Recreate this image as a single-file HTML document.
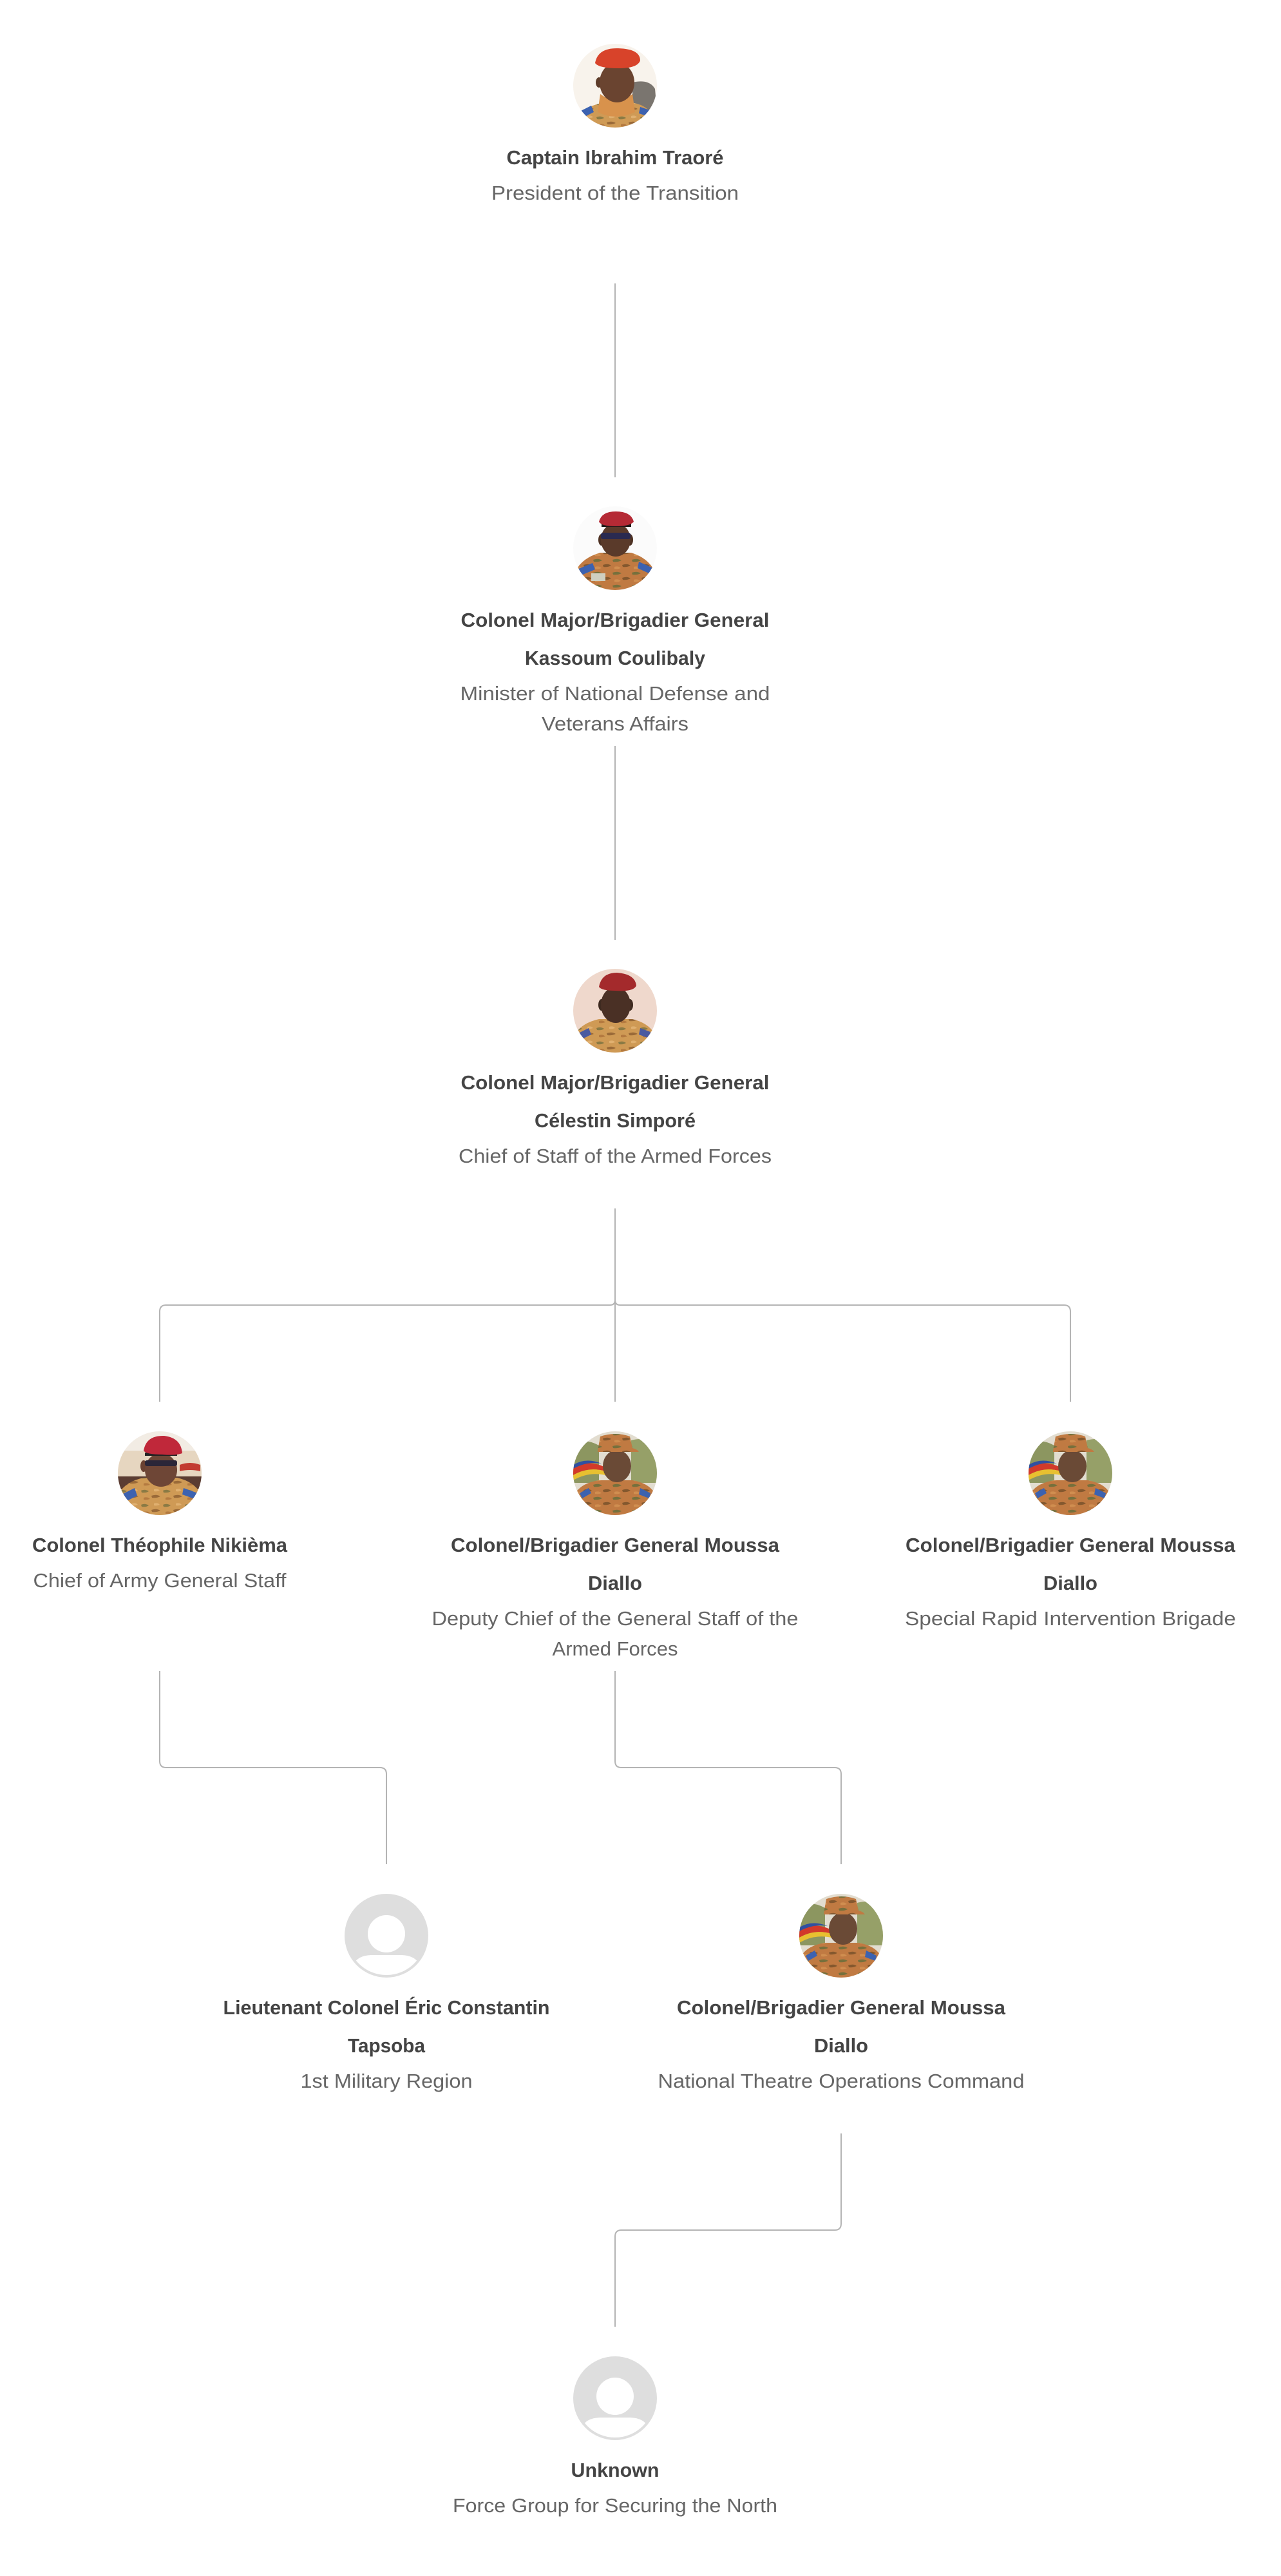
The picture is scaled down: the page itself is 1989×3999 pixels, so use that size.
<!DOCTYPE html>
<html>
<head>
<meta charset="utf-8">
<style>
html,body{margin:0;padding:0;background:#fff;}
svg{display:block;}
.t{font-family:"Liberation Sans",Arial,sans-serif;font-weight:bold;font-size:31px;fill:#444;}
.s{font-family:"Liberation Sans",Arial,sans-serif;font-weight:normal;font-size:31px;fill:#666;}
.ln{fill:none;stroke:#b4b4b4;stroke-width:2;}
</style>
</head>
<body>
<svg width="1989" height="3999" viewBox="0 0 1989 3999" xmlns="http://www.w3.org/2000/svg">
<defs>
  <clipPath id="cc" clipPathUnits="userSpaceOnUse"><circle cx="65" cy="65" r="65"/></clipPath>
  <clipPath id="ci" clipPathUnits="userSpaceOnUse"><circle cx="65" cy="65" r="61"/></clipPath>
  <pattern id="camo" patternUnits="userSpaceOnUse" width="34" height="22">
    <rect width="34" height="22" fill="#cf9a55"/>
    <path d="M2 4 Q8 1 14 5 Q10 8 3 7 Z" fill="#8a7a44"/>
    <path d="M18 12 Q26 9 32 13 Q26 16 19 15 Z" fill="#9a6a38"/>
    <path d="M6 15 Q12 13 16 17 Q10 19 6 18 Z" fill="#b47a40"/>
    <path d="M22 2 Q28 0 31 4 Q26 6 22 5 Z" fill="#e0b070"/>
  </pattern>
  <pattern id="camo2" patternUnits="userSpaceOnUse" width="30" height="20">
    <rect width="30" height="20" fill="#c07a42"/>
    <path d="M1 3 Q9 0 15 4 Q9 7 2 6 Z" fill="#76703c"/>
    <path d="M16 11 Q24 8 29 12 Q23 15 17 14 Z" fill="#84582e"/>
    <path d="M4 14 Q10 12 14 16 Q9 18 4 17 Z" fill="#d08e50"/>
  </pattern>
</defs>

<!-- connectors -->
<path class="ln" d="M955 440 V741"/>
<path class="ln" d="M955 1158 V1459"/>
<path class="ln" d="M955 1876 V2176"/>
<path class="ln" d="M955 1876 V2018 Q955 2026 947 2026 H258 Q248 2026 248 2036 V2176"/>
<path class="ln" d="M955 1876 V2018 Q955 2026 963 2026 H1652 Q1662 2026 1662 2036 V2176"/>
<path class="ln" d="M248 2594 V2734 Q248 2744 258 2744 H590 Q600 2744 600 2754 V2894"/>
<path class="ln" d="M955 2594 V2734 Q955 2744 965 2744 H1296 Q1306 2744 1306 2754 V2894"/>
<path class="ln" d="M1306 3312 V3452 Q1306 3462 1296 3462 H965 Q955 3462 955 3472 V3612"/>

<!-- Avatar 1: Traoré -->
<g transform="translate(890,68)">
  <g clip-path="url(#cc)">
    <rect width="130" height="130" fill="#f8f3ec"/>
    <path d="M92 60 Q118 54 127 70 L130 104 L92 104 Z" fill="#7a756f"/>
    <path d="M4 130 L10 110 Q22 96 45 92 L95 92 Q115 96 124 112 L130 130 Z" fill="url(#camo)"/>
    <path d="M12 104 L28 96 L32 106 L16 114 Z" fill="#3c62b0"/>
    <path d="M104 98 L122 104 L120 114 L102 108 Z" fill="#3c62b0"/>
    <path d="M42 78 Q66 96 92 78 L96 106 Q66 120 38 106 Z" fill="#d8924c"/>
    <ellipse cx="40" cy="60" rx="5" ry="8" fill="#5e3c2a"/>
    <ellipse cx="68" cy="60" rx="27" ry="31" fill="#6a4430"/>
    <path d="M34 30 Q38 6 70 7 Q104 8 104 26 Q100 38 70 38 Q40 38 34 30 Z" fill="#d8432a"/>
  </g>
</g>

<!-- Avatar 2: Coulibaly -->
<g transform="translate(890,786)">
  <g clip-path="url(#cc)">
    <rect width="130" height="130" fill="#fbfbfb"/>
    <path d="M0 130 L4 100 Q14 80 42 72 L90 72 Q116 80 126 100 L130 130 Z" fill="url(#camo2)"/>
    <path d="M6 98 L30 88 L34 98 L10 108 Z" fill="#3c62b0"/>
    <path d="M102 86 L124 96 L122 106 L100 96 Z" fill="#3c62b0"/>
    <rect x="28" y="104" width="22" height="12" fill="#cfcfc0"/>
    <ellipse cx="44" cy="52" rx="5" ry="9" fill="#4e3224"/>
    <ellipse cx="88" cy="52" rx="5" ry="9" fill="#4e3224"/>
    <ellipse cx="66" cy="52" rx="23" ry="26" fill="#5a3a2a"/>
    <rect x="43" y="41" width="46" height="10" rx="3" fill="#2a2a50"/>
    <rect x="44" y="26" width="46" height="6" fill="#1e1a18"/>
    <path d="M40 24 Q44 8 66 8 Q90 8 94 24 Q88 31 66 31 Q44 31 40 24 Z" fill="#b52a35"/>
  </g>
</g>

<!-- Avatar 3: Simporé -->
<g transform="translate(890,1504)">
  <g clip-path="url(#cc)">
    <rect width="130" height="130" fill="#efd8cc"/>
    <path d="M0 130 L4 100 Q14 84 40 78 L92 78 Q116 84 126 100 L130 130 Z" fill="url(#camo)"/>
    <path d="M8 100 L24 92 L28 102 L12 110 Z" fill="#4a5aa0"/>
    <path d="M104 92 L120 98 L118 108 L102 102 Z" fill="#4a5aa0"/>
    <ellipse cx="44" cy="56" rx="5" ry="9" fill="#3e2a20"/>
    <ellipse cx="88" cy="56" rx="5" ry="9" fill="#3e2a20"/>
    <ellipse cx="66" cy="56" rx="23" ry="28" fill="#4a3025"/>
    <path d="M40 28 Q44 6 68 6 Q96 8 98 26 Q94 36 66 34 Q44 34 40 28 Z" fill="#a42a2c"/>
  </g>
</g>

<!-- Avatar 4a: Nikièma -->
<g transform="translate(183,2222)">
  <g clip-path="url(#cc)">
    <rect width="130" height="130" fill="#f2ece4"/>
    <rect y="30" width="130" height="46" fill="#e6d6c0"/>
    <rect y="70" width="130" height="20" fill="#5a3c32"/>
    <path d="M96 52 Q112 46 128 52 L128 62 Q112 58 96 62 Z" fill="#c23a30"/>
    <path d="M0 130 L2 96 Q12 78 40 72 L92 72 Q118 78 128 96 L130 130 Z" fill="url(#camo)"/>
    <path d="M6 98 L26 88 L30 100 L10 110 Z" fill="#3c62b0"/>
    <path d="M102 88 L124 96 L122 106 L100 98 Z" fill="#3c62b0"/>
    <ellipse cx="40" cy="54" rx="5" ry="9" fill="#6a4232"/>
    <ellipse cx="67" cy="60" rx="25" ry="26" fill="#6e4636"/>
    <rect x="42" y="45" width="50" height="9" rx="3" fill="#2a2638"/>
    <rect x="42" y="33" width="50" height="5" fill="#222"/>
    <path d="M40 30 Q44 6 72 7 Q98 10 100 34 Q90 38 68 36 Q44 36 40 30 Z" fill="#c0283a"/>
  </g>
</g>

<!-- Diallo avatars -->
<g transform="translate(890,2222)">
  <g clip-path="url(#cc)">
    <rect width="130" height="130" fill="#e2ddd0"/>
    <path d="M0 20 Q20 10 40 22 L40 80 L0 80 Z" fill="#8c9660"/>
    <path d="M90 14 Q112 8 130 20 L130 80 L90 80 Z" fill="#96a068"/>
    <path d="M0 58 Q22 42 50 56 L50 62 Q24 54 0 68 Z" fill="#d23a2a"/>
    <path d="M0 68 Q24 54 50 62 L50 68 Q24 62 0 76 Z" fill="#e8c030"/>
    <path d="M0 52 Q20 40 44 50 Q22 46 0 58 Z" fill="#3050a0"/>
    <path d="M0 130 L4 95 Q14 80 40 76 L92 76 Q116 80 126 95 L130 130 Z" fill="url(#camo2)"/>
    <path d="M10 96 L24 88 L28 96 L14 104 Z" fill="#3c62b0"/>
    <path d="M104 88 L120 96 L118 104 L102 98 Z" fill="#3c62b0"/>
    <ellipse cx="68" cy="54" rx="22" ry="25" fill="#6a4a36"/>
    <path d="M38 30 L42 8 Q66 0 88 8 L92 26 Q100 28 102 32 L38 32 Z" fill="url(#camo2)"/>
  </g>
</g>
<g transform="translate(1597,2222)">
  <g clip-path="url(#cc)">
    <rect width="130" height="130" fill="#e2ddd0"/>
    <path d="M0 20 Q20 10 40 22 L40 80 L0 80 Z" fill="#8c9660"/>
    <path d="M90 14 Q112 8 130 20 L130 80 L90 80 Z" fill="#96a068"/>
    <path d="M0 58 Q22 42 50 56 L50 62 Q24 54 0 68 Z" fill="#d23a2a"/>
    <path d="M0 68 Q24 54 50 62 L50 68 Q24 62 0 76 Z" fill="#e8c030"/>
    <path d="M0 52 Q20 40 44 50 Q22 46 0 58 Z" fill="#3050a0"/>
    <path d="M0 130 L4 95 Q14 80 40 76 L92 76 Q116 80 126 95 L130 130 Z" fill="url(#camo2)"/>
    <path d="M10 96 L24 88 L28 96 L14 104 Z" fill="#3c62b0"/>
    <path d="M104 88 L120 96 L118 104 L102 98 Z" fill="#3c62b0"/>
    <ellipse cx="68" cy="54" rx="22" ry="25" fill="#6a4a36"/>
    <path d="M38 30 L42 8 Q66 0 88 8 L92 26 Q100 28 102 32 L38 32 Z" fill="url(#camo2)"/>
  </g>
</g>
<g transform="translate(1241,2940)">
  <g clip-path="url(#cc)">
    <rect width="130" height="130" fill="#e2ddd0"/>
    <path d="M0 20 Q20 10 40 22 L40 80 L0 80 Z" fill="#8c9660"/>
    <path d="M90 14 Q112 8 130 20 L130 80 L90 80 Z" fill="#96a068"/>
    <path d="M0 58 Q22 42 50 56 L50 62 Q24 54 0 68 Z" fill="#d23a2a"/>
    <path d="M0 68 Q24 54 50 62 L50 68 Q24 62 0 76 Z" fill="#e8c030"/>
    <path d="M0 52 Q20 40 44 50 Q22 46 0 58 Z" fill="#3050a0"/>
    <path d="M0 130 L4 95 Q14 80 40 76 L92 76 Q116 80 126 95 L130 130 Z" fill="url(#camo2)"/>
    <path d="M10 96 L24 88 L28 96 L14 104 Z" fill="#3c62b0"/>
    <path d="M104 88 L120 96 L118 104 L102 98 Z" fill="#3c62b0"/>
    <ellipse cx="68" cy="54" rx="22" ry="25" fill="#6a4a36"/>
    <path d="M38 30 L42 8 Q66 0 88 8 L92 26 Q100 28 102 32 L38 32 Z" fill="url(#camo2)"/>
  </g>
</g>

<!-- Default avatars -->
<g transform="translate(535,2940)">
  <circle cx="65" cy="65" r="65" fill="#dedede"/>
  <circle cx="65" cy="62" r="29" fill="#fff"/>
  <g clip-path="url(#ci)">
    <path d="M12 140 L12 118 Q14 96 42 95 L88 95 Q116 96 118 118 L118 140 Z" fill="#fff"/>
  </g>
</g>
<g transform="translate(890,3658)">
  <circle cx="65" cy="65" r="65" fill="#dedede"/>
  <circle cx="65" cy="62" r="29" fill="#fff"/>
  <g clip-path="url(#ci)">
    <path d="M12 140 L12 118 Q14 96 42 95 L88 95 Q116 96 118 118 L118 140 Z" fill="#fff"/>
  </g>
</g>

<!-- Node 1 -->
<text class="t" x="955" y="255" text-anchor="middle" textLength="337" lengthAdjust="spacingAndGlyphs">Captain Ibrahim Traoré</text>
<text class="s" x="955" y="310" text-anchor="middle" textLength="384" lengthAdjust="spacingAndGlyphs">President of the Transition</text>

<!-- Node 2 -->
<text class="t" x="955" y="973" text-anchor="middle" textLength="479" lengthAdjust="spacingAndGlyphs">Colonel Major/Brigadier General</text>
<text class="t" x="955" y="1032" text-anchor="middle" textLength="280" lengthAdjust="spacingAndGlyphs">Kassoum Coulibaly</text>
<text class="s" x="955" y="1087" text-anchor="middle" textLength="481" lengthAdjust="spacingAndGlyphs">Minister of National Defense and</text>
<text class="s" x="955" y="1134" text-anchor="middle" textLength="228" lengthAdjust="spacingAndGlyphs">Veterans Affairs</text>

<!-- Node 3 -->
<text class="t" x="955" y="1691" text-anchor="middle" textLength="479" lengthAdjust="spacingAndGlyphs">Colonel Major/Brigadier General</text>
<text class="t" x="955" y="1750" text-anchor="middle" textLength="250" lengthAdjust="spacingAndGlyphs">Célestin Simporé</text>
<text class="s" x="955" y="1805" text-anchor="middle" textLength="486" lengthAdjust="spacingAndGlyphs">Chief of Staff of the Armed Forces</text>

<!-- Node 4a -->
<text class="t" x="248" y="2409" text-anchor="middle" textLength="396" lengthAdjust="spacingAndGlyphs">Colonel Théophile Nikièma</text>
<text class="s" x="248" y="2464" text-anchor="middle" textLength="393" lengthAdjust="spacingAndGlyphs">Chief of Army General Staff</text>

<!-- Node 4b -->
<text class="t" x="955" y="2409" text-anchor="middle" textLength="510" lengthAdjust="spacingAndGlyphs">Colonel/Brigadier General Moussa</text>
<text class="t" x="955" y="2468" text-anchor="middle" textLength="84" lengthAdjust="spacingAndGlyphs">Diallo</text>
<text class="s" x="955" y="2523" text-anchor="middle" textLength="569" lengthAdjust="spacingAndGlyphs">Deputy Chief of the General Staff of the</text>
<text class="s" x="955" y="2570" text-anchor="middle" textLength="195" lengthAdjust="spacingAndGlyphs">Armed Forces</text>

<!-- Node 4c -->
<text class="t" x="1662" y="2409" text-anchor="middle" textLength="512" lengthAdjust="spacingAndGlyphs">Colonel/Brigadier General Moussa</text>
<text class="t" x="1662" y="2468" text-anchor="middle" textLength="84" lengthAdjust="spacingAndGlyphs">Diallo</text>
<text class="s" x="1662" y="2523" text-anchor="middle" textLength="514" lengthAdjust="spacingAndGlyphs">Special Rapid Intervention Brigade</text>

<!-- Node 5a -->
<text class="t" x="600" y="3127" text-anchor="middle" textLength="507" lengthAdjust="spacingAndGlyphs">Lieutenant Colonel Éric Constantin</text>
<text class="t" x="600" y="3186" text-anchor="middle" textLength="120" lengthAdjust="spacingAndGlyphs">Tapsoba</text>
<text class="s" x="600" y="3241" text-anchor="middle" textLength="267" lengthAdjust="spacingAndGlyphs">1st Military Region</text>

<!-- Node 5b -->
<text class="t" x="1306" y="3127" text-anchor="middle" textLength="510" lengthAdjust="spacingAndGlyphs">Colonel/Brigadier General Moussa</text>
<text class="t" x="1306" y="3186" text-anchor="middle" textLength="84" lengthAdjust="spacingAndGlyphs">Diallo</text>
<text class="s" x="1306" y="3241" text-anchor="middle" textLength="569" lengthAdjust="spacingAndGlyphs">National Theatre Operations Command</text>

<!-- Node 6 -->
<text class="t" x="955" y="3845" text-anchor="middle" textLength="137" lengthAdjust="spacingAndGlyphs">Unknown</text>
<text class="s" x="955" y="3900" text-anchor="middle" textLength="504" lengthAdjust="spacingAndGlyphs">Force Group for Securing the North</text>
</svg>
</body>
</html>
